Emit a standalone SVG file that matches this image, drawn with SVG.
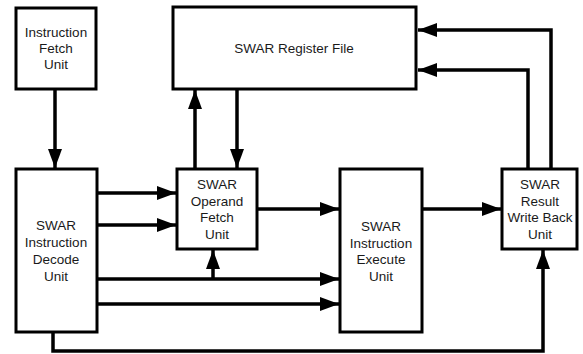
<svg xmlns="http://www.w3.org/2000/svg" width="583" height="354" viewBox="0 0 583 354">
  <style>
    .box { fill: #ffffff; stroke: #000000; stroke-width: 3; }
    .lbl { font-family: "Liberation Sans", Arial, Helvetica, sans-serif; font-size: 13.5px; fill: #1a1a1a; text-anchor: middle; }
    .wire { fill: none; stroke: #000000; stroke-width: 3.5; }
  </style>
  <defs>
    <marker id="arrow" markerUnits="userSpaceOnUse" markerWidth="20" markerHeight="15" refX="19" refY="7" orient="auto">
      <path d="M0,0 L19,7 L0,14 z" fill="#000000"/>
    </marker>
  </defs>
  <rect width="583" height="354" fill="#ffffff"/>

  <!-- connectors -->
  <g id="connectors">
    <path class="wire" d="M55,89 V168" marker-end="url(#arrow)"/>
    <path class="wire" d="M195,169 V90" marker-end="url(#arrow)"/>
    <path class="wire" d="M237,89 V168" marker-end="url(#arrow)"/>
    <path class="wire" d="M551,169 V30 H418" marker-end="url(#arrow)"/>
    <path class="wire" d="M528,169 V70 H418" marker-end="url(#arrow)"/>
    <path class="wire" d="M97,193 H176" marker-end="url(#arrow)"/>
    <path class="wire" d="M97,225 H176" marker-end="url(#arrow)"/>
    <path class="wire" d="M257,209 H339" marker-end="url(#arrow)"/>
    <path class="wire" d="M97,279 H339" marker-end="url(#arrow)"/>
    <path class="wire" d="M213,279 V250" marker-end="url(#arrow)"/>
    <path class="wire" d="M97,304 H339" marker-end="url(#arrow)"/>
    <path class="wire" d="M422,209 H501" marker-end="url(#arrow)"/>
    <path class="wire" d="M53,332 V351 H543 V250" marker-end="url(#arrow)"/>
  </g>

  <g id="fetch">
    <rect class="box" x="16" y="8" width="80" height="81"/>
    <text class="lbl" x="56" y="37">Instruction</text>
    <text class="lbl" x="56" y="53">Fetch</text>
    <text class="lbl" x="56" y="69">Unit</text>
  </g>

  <g id="regfile">
    <rect class="box" x="173" y="7" width="243" height="82"/>
    <text class="lbl" x="294" y="53">SWAR Register File</text>
  </g>

  <g id="decode">
    <rect class="box" x="16" y="169" width="81" height="163"/>
    <text class="lbl" x="56" y="230">SWAR</text>
    <text class="lbl" x="56" y="247">Instruction</text>
    <text class="lbl" x="56" y="264">Decode</text>
    <text class="lbl" x="56" y="281">Unit</text>
  </g>

  <g id="operand">
    <rect class="box" x="177" y="169" width="80" height="80"/>
    <text class="lbl" x="217" y="189">SWAR</text>
    <text class="lbl" x="217" y="206">Operand</text>
    <text class="lbl" x="217" y="222">Fetch</text>
    <text class="lbl" x="217" y="239">Unit</text>
  </g>

  <g id="execute">
    <rect class="box" x="340" y="169" width="82" height="163"/>
    <text class="lbl" x="381" y="231">SWAR</text>
    <text class="lbl" x="381" y="248">Instruction</text>
    <text class="lbl" x="381" y="264">Execute</text>
    <text class="lbl" x="381" y="281">Unit</text>
  </g>

  <g id="writeback">
    <rect class="box" x="502" y="169" width="75" height="80"/>
    <text class="lbl" x="540" y="189">SWAR</text>
    <text class="lbl" x="540" y="206">Result</text>
    <text class="lbl" x="540" y="222">Write Back</text>
    <text class="lbl" x="540" y="239">Unit</text>
  </g>
</svg>
